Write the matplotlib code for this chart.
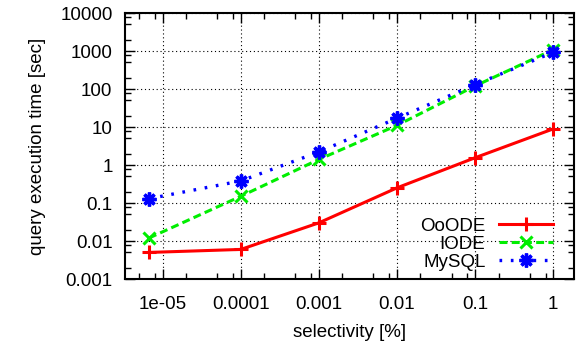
import numpy as np
import matplotlib
matplotlib.use('Agg')
import matplotlib.pyplot as plt
from matplotlib.ticker import LogLocator, FixedLocator, NullFormatter

#selectivity values [%] and times [sec]
selectivity = [6.7e-6, 1e-4, 1e-3, 1e-2, 1e-1, 1]
ooode_time = [0.005, 0.006, 0.030, 0.25, 1.55, 8.9]
iode_time = [0.012, 0.15, 1.4, 11, 120, 1080]
mysql_time = [0.13, 0.38, 2.2, 17, 130, 920]

x_ticks = [1e-5, 1e-4, 1e-3, 1e-2, 1e-1, 1]
x_tick_labels = ['1e-05', '0.0001', '0.001', '0.01', '0.1', '1']
y_ticks = [0.001, 0.01, 0.1, 1, 10, 100, 1000, 10000]
y_tick_labels = ['0.001', '0.01', '0.1', '1', '10', '100', '1000', '10000']

plt.rcParams['font.family'] = ['Liberation Sans', 'DejaVu Sans']
plt.rcParams['font.size'] = 13.5


def main():
    fig = plt.figure(figsize=(5.78, 3.42), dpi=100)
    ax = fig.add_axes([125 / 578, 1 - 279 / 342, 449 / 578, 266 / 342])

    ax.plot(selectivity, ooode_time, color='#ff0000', lw=2.2, ls='-',
            marker='+', ms=10, mew=2.2, label='OoODE')
    ax.plot(selectivity, iode_time, color='#00ee00', lw=2.2, ls=(0, (2.6, 1.4)),
            marker='x', ms=9, mew=2.2, label='IODE')
    ax.plot(selectivity, mysql_time, color='#0000ff', lw=2.4, ls=(0, (0.8, 2.6)),
            marker=(8, 2, 0), ms=10, mew=2.4, label='MySQL')

    ax.set_xscale('log')
    ax.set_yscale('log')
    ax.set_xlim(3.3e-6, 1.85)
    ax.set_ylim(0.001, 10000)

    #gnuplot style ticks: inward, mirrored, minor at 2, 5, 8
    ax.xaxis.set_major_locator(FixedLocator(x_ticks))
    ax.set_xticklabels(x_tick_labels)
    ax.yaxis.set_major_locator(FixedLocator(y_ticks))
    ax.set_yticklabels(y_tick_labels)
    ax.xaxis.set_minor_locator(LogLocator(base=10, subs=(2, 5, 8)))
    ax.yaxis.set_minor_locator(LogLocator(base=10, subs=(2, 5, 8)))
    ax.xaxis.set_minor_formatter(NullFormatter())
    ax.yaxis.set_minor_formatter(NullFormatter())
    ax.tick_params(which='both', direction='in', top=True, right=True,
                   width=1, color='black')
    ax.tick_params(which='major', length=7)
    ax.tick_params(which='minor', length=4)
    ax.tick_params(axis='x', which='major', pad=12)
    ax.tick_params(axis='y', which='major', pad=9)

    for spine in ax.spines.values():
        spine.set_linewidth(1.5)

    ax.grid(True, which='major', color='black', ls=(0, (1, 2.5)), lw=0.8)

    ax.set_xlabel('selectivity [%]', labelpad=8)
    ax.set_ylabel('query execution time [sec]', labelpad=10)

    ax.legend(loc='lower right', bbox_to_anchor=(0.953, 0.03), frameon=False,
              markerfirst=False, handlelength=2.9, handletextpad=0.7,
              labelspacing=0.05, borderpad=0, borderaxespad=0)

    fig.savefig('out.png', dpi=100)


if __name__ == '__main__':
    main()
